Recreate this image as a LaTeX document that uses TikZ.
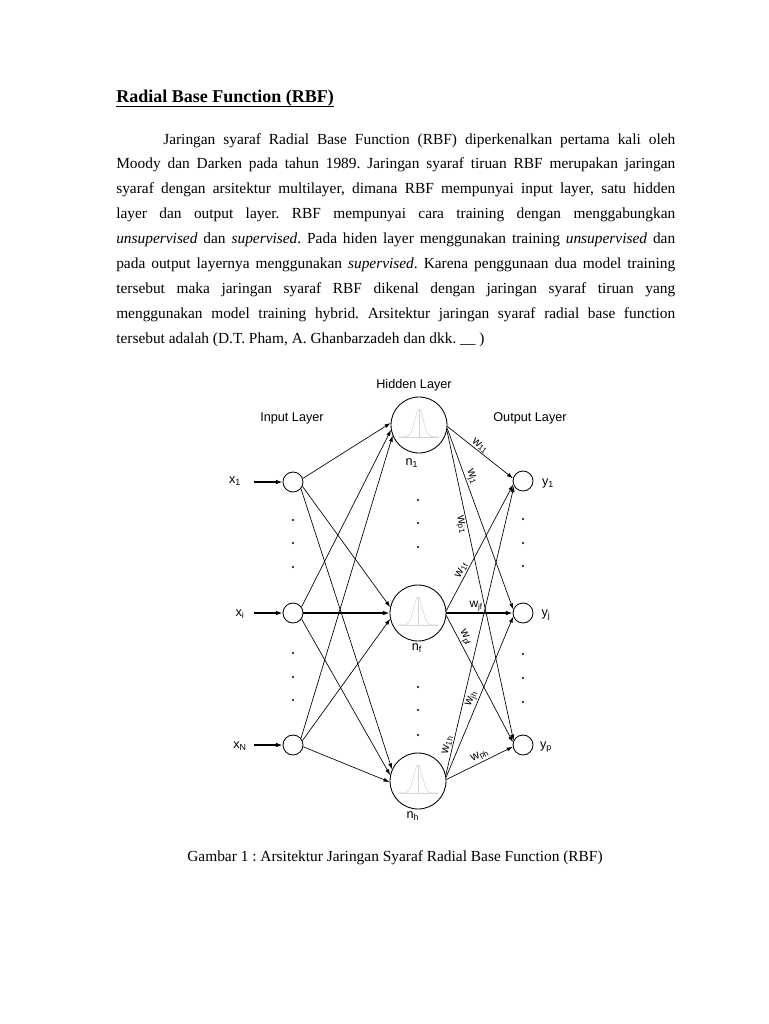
\documentclass[tikz,border=0pt]{standalone}
\usepackage{fontspec}
\setmainfont{Liberation Serif}
\newfontfamily\arialf{Liberation Sans}
\usetikzlibrary{arrows.meta}
\frenchspacing
\begin{document}
\begin{tikzpicture}[x=0.75pt,y=-0.75pt,
  conn/.style={line width=0.5pt, -{Latex[length=4.5pt,width=3pt]}},
  boldc/.style={line width=1.1pt, -{Latex[length=5pt,width=3.5pt]}},
  inode/.style={circle, draw, line width=0.65pt, minimum size=15pt, inner sep=0pt},
  hnode/.style={circle, draw, line width=0.65pt, minimum size=42pt, inner sep=0pt},
  lbl/.style={font=\arialf\fontsize{9.5}{11}\selectfont, inner sep=1pt},
  wlbl/.style={font=\arialf\fontsize{9}{10}\selectfont, inner sep=0.8pt, sloped},
  body/.style={font=\fontsize{11.55}{14}\selectfont, inner sep=0pt, anchor=base west},
  dotm/.style={circle, fill, inner sep=0pt, minimum size=1.8pt},
  gauss/.style={draw=black!17, line width=0.4pt}
]
\useasboundingbox (0,0) rectangle (768,1024);
\fill[white] (0,0) rectangle (768,1024);

% ---- title and text ----
\node[anchor=base west, inner sep=0pt, font=\bfseries\fontsize{13.5}{16}\selectfont] (title) at (116,103) {Radial Base Function (RBF)};
\draw[line width=0.8pt] ([yshift=-2.4pt]title.base west) -- ([yshift=-2.4pt]title.base east);

\node[body] (l1) at (163,144) {\makebox[384pt][s]{Jaringan syaraf Radial Base Function (RBF) diperkenalkan pertama kali oleh}};
\node[body] (l2) at (116,168.9) {\makebox[419.25pt][s]{Moody dan Darken pada tahun 1989. Jaringan syaraf tiruan RBF merupakan jaringan}};
\node[body] (l3) at (116,193.8) {\makebox[419.25pt][s]{syaraf dengan arsitektur multilayer, dimana RBF mempunyai input layer, satu hidden}};
\node[body] (l4) at (116,218.7) {\makebox[419.25pt][s]{layer dan output layer. RBF mempunyai cara training dengan menggabungkan}};
\node[body] (l5) at (116,243.6) {\makebox[419.25pt][s]{\textit{unsupervised} dan \textit{supervised}. Pada hiden layer menggunakan training \textit{unsupervised} dan}};
\node[body] (l6) at (116,268.5) {\makebox[419.25pt][s]{pada output layernya menggunakan \textit{supervised}. Karena penggunaan dua model training}};
\node[body] (l7) at (116,293.4) {\makebox[419.25pt][s]{tersebut maka jaringan syaraf RBF dikenal dengan jaringan syaraf tiruan yang}};
\node[body] (l8) at (116,318.3) {\makebox[419.25pt][s]{menggunakan model training hybrid. Arsitektur jaringan syaraf radial base function}};
\node[body] (l9) at (116,343.2) {tersebut adalah (D.T. Pham, A. Ghanbarzadeh dan dkk. \_\_ )};

\node[font=\fontsize{11.55}{14}\selectfont, inner sep=0pt] (cap) at (395,858) {Gambar 1 : Arsitektur Jaringan Syaraf Radial Base Function (RBF)};

% ---- layer labels ----
\node[lbl] (tin) at (292,418) {Input Layer};
\node[lbl] (thid) at (414,385) {Hidden Layer};
\node[lbl] (tout) at (530,418) {Output Layer};

% ---- nodes ----
\node[inode] (I1) at (293,482) {};
\node[inode] (Ii) at (293,613) {};
\node[inode] (IN) at (293,745) {};
\node[hnode] (H1) at (419,425) {};
\node[hnode] (Hf) at (418,613) {};
\node[hnode] (Hh) at (418,781) {};
\node[inode] (O1) at (523,481) {};
\node[inode] (Oj) at (523,613) {};
\node[inode] (Op) at (523,745) {};

% gaussians
\foreach \cx/\cy in {419/425, 418/613, 418/781}{
  \draw[gauss] (\cx-20,\cy+12) -- (\cx+20,\cy+12);
  \draw[gauss] (\cx,\cy+12) -- (\cx,\cy-16);
  \draw[gauss] plot[domain=-20:20, samples=61, smooth] ({\cx+\x},{\cy+12-28*exp(-(\x*\x)/37)});
}

% labels of nodes
\node[lbl] (lx1) at (235,481) {x\textsubscript{1}};
\node[lbl] (lxi) at (240,614) {x\textsubscript{i}};
\node[lbl] (lxN) at (240,746) {x\textsubscript{N}};
\node[lbl] (ln1) at (412,463) {n\textsubscript{1}};
\node[lbl] (lnf) at (417,648) {n\textsubscript{f}};
\node[lbl] (lnh) at (413,816) {n\textsubscript{h}};
\node[lbl] (ly1) at (548,483) {y\textsubscript{1}};
\node[lbl] (lyj) at (546,615) {y\textsubscript{j}};
\node[lbl] (lyp) at (546,747) {y\textsubscript{p}};

% input arrows
\coordinate (a1) at (254,482);
\coordinate (ai) at (254,613);
\coordinate (aN) at (254,745);
\draw[boldc] (a1) -- (I1.west);
\draw[boldc] (ai) -- (Ii.west);
\draw[boldc] (aN) -- (IN.west);

% dots
\foreach \x/\y in {293/520, 293/543, 293/567, 293/653, 293/677, 293/700,
                   418/500, 418/523, 418/547, 418/687, 418/710, 418/735,
                   523/519, 523/543, 523/566, 523/654, 523/678, 523/702}{
  \node[dotm] at (\x,\y) {};
}

% input -> hidden
\draw[conn] (I1.20) -- (H1.176);
\draw[conn] (I1.-25) -- (Hf.168);
\draw[conn] (I1.-40) -- (Hh.156);
\draw[conn] (Ii.35) -- (H1.190);
\draw[boldc] (Ii.east) -- (Hf.west);
\draw[conn] (Ii.-35) -- (Hh.168);
\draw[conn] (IN.40) -- (H1.202);
\draw[conn] (IN.25) -- (Hf.192);
\draw[conn] (IN.-10) -- (Hh.182);

% hidden -> output
\draw[conn] (H1.-3) -- node[wlbl, above, pos=0.45] {w\textsubscript{11}} (O1.165);
\draw[conn] (H1.-7) -- node[wlbl, above, pos=0.28] {w\textsubscript{j1}} (Oj.160);
\draw[conn] (H1.-11) -- node[wlbl, below, pos=0.3] {w\textsubscript{p1}} (Op.155);
\draw[conn] (Hf.5) -- node[wlbl, above, pos=0.3] {w\textsubscript{1f}} (O1.200);
\draw[boldc] (Hf.east) -- node[wlbl, above, pos=0.45] {w\textsubscript{jf}} (Oj.west);
\draw[conn] (Hf.-5) -- node[wlbl, above, pos=0.2] {w\textsubscript{pf}} (Op.165);
\draw[conn] (Hh.12) -- node[wlbl, above, pos=0.1] {w\textsubscript{1h}} (O1.210);
\draw[conn] (Hh.8) -- node[wlbl, above, pos=0.47] {w\textsubscript{jh}} (Oj.200);
\draw[conn] (Hh.3) -- node[wlbl, above, pos=0.55] {w\textsubscript{ph}} (Op.190);
\end{tikzpicture}
\end{document}
